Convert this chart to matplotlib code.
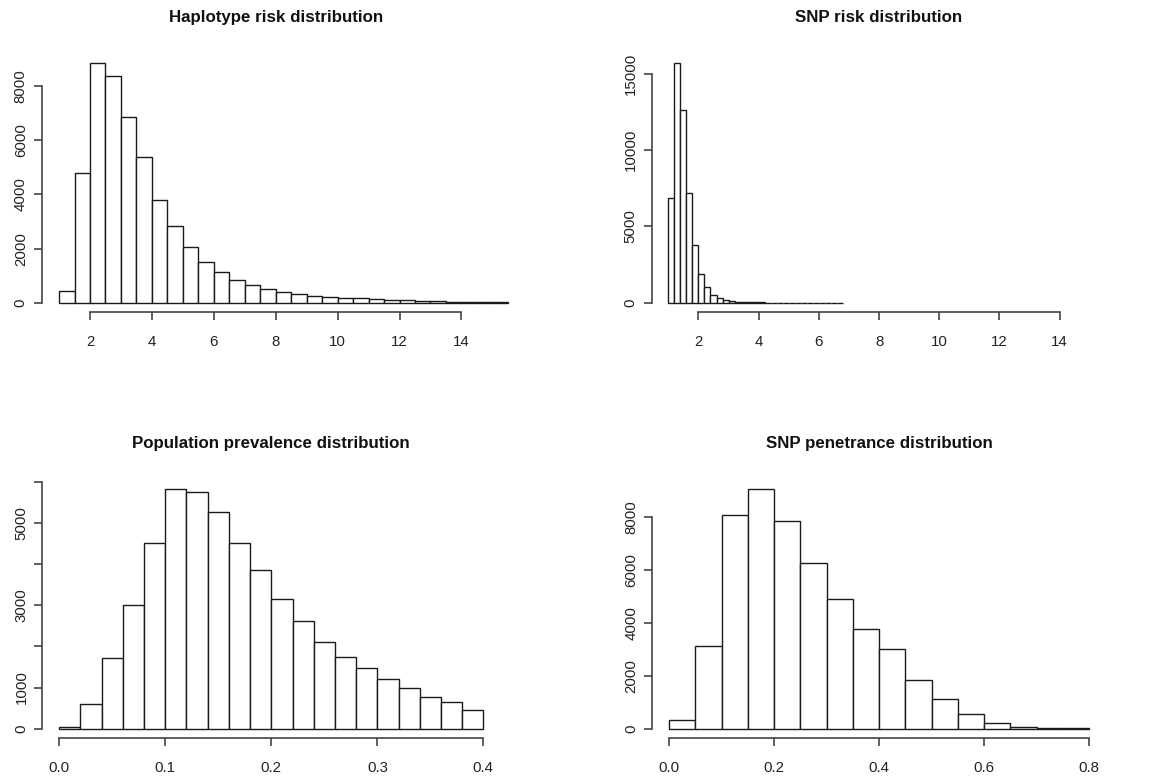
import numpy as np
import matplotlib
matplotlib.use("Agg")
import matplotlib.pyplot as plt

plt.rcParams['font.family'] = ['Liberation Sans', 'DejaVu Sans']

# ---------------- data ----------------
hap_title = "Haplotype risk distribution"
hap_bin_start, hap_bin_width = 1.0, 0.5
hap_counts = [430, 4780, 8850, 8370, 6850, 5400, 3810, 2850, 2060, 1490,
              1150, 830, 655, 500, 390, 320, 265, 215, 165, 160,
              145, 110, 100, 70, 50, 35, 30, 25, 20]
hap_xticks = [2, 4, 6, 8, 10, 12, 14]
hap_yticks = [0, 2000, 4000, 6000, 8000]

snp_title = "SNP risk distribution"
snp_bin_start, snp_bin_width = 1.0, 0.2
snp_counts = [6850, 15700, 12640, 7170, 3760, 1880, 1005, 500, 285, 175,
              110, 65, 45, 30, 20, 15, 12, 10, 8, 6,
              5, 4, 4, 3, 3, 2, 2, 2, 1]
snp_xticks = [2, 4, 6, 8, 10, 12, 14]
snp_yticks = [0, 5000, 10000, 15000]

prev_title = "Population prevalence distribution"
prev_bin_start, prev_bin_width = 0.0, 0.02
prev_counts = [40, 607, 1720, 3010, 4520, 5810, 5745, 5260, 4515, 3860,
               3150, 2605, 2095, 1750, 1470, 1195, 985, 780, 640, 460]
prev_xticks = [0.0, 0.1, 0.2, 0.3, 0.4]
prev_xticklabels = ["0.0", "0.1", "0.2", "0.3", "0.4"]
prev_yticks = [0, 1000, 2000, 3000, 4000, 5000, 6000]
prev_yticklabels = ["0", "1000", "", "3000", "", "5000", ""]

pen_title = "SNP penetrance distribution"
pen_bin_start, pen_bin_width = 0.0, 0.05
pen_counts = [314, 3130, 8050, 9045, 7825, 6265, 4905, 3750, 3005, 1850,
              1105, 540, 200, 75, 25, 10]
pen_xticks = [0.0, 0.2, 0.4, 0.6, 0.8]
pen_xticklabels = ["0.0", "0.2", "0.4", "0.6", "0.8"]
pen_yticks = [0, 2000, 4000, 6000, 8000]

# ---------------- layout (pixels) ----------------
W, H = 1155, 779
fig = plt.figure(figsize=(W / 100, H / 100), dpi=100)

def make_ax(left, right, top, bottom):
    return fig.add_axes([left / W, (H - bottom) / H, (right - left) / W, (bottom - top) / H])

AX_COL = '#444444'
BAR_COL = '#1a1a1a'

def draw(ax, start, width, counts, xlim, xticks, xticklabels, yticks, yticklabels, title):
    counts = np.asarray(counts, dtype=float)
    lefts = start + width * np.arange(len(counts))
    ax.bar(lefts, counts, width=width, align='edge', facecolor='white',
           edgecolor=BAR_COL, linewidth=1.0)
    ymax = counts.max()
    ax.set_ylim(-0.04 * ymax, 1.04 * ymax)
    ax.set_xlim(*xlim)
    for s in ('top', 'right'):
        ax.spines[s].set_visible(False)
    ax.spines['left'].set_bounds(yticks[0], yticks[-1])
    ax.spines['bottom'].set_bounds(xticks[0], xticks[-1])
    for s in ('left', 'bottom'):
        ax.spines[s].set_color(AX_COL)
        ax.spines[s].set_linewidth(1.2)
    ax.set_xticks(xticks)
    ax.set_xticklabels(xticklabels if xticklabels is not None else [str(t) for t in xticks])
    ax.set_yticks(yticks)
    ax.set_yticklabels(yticklabels if yticklabels is not None else [str(t) for t in yticks],
                       rotation=90, va='center')
    ax.tick_params(axis='both', length=6, width=1.2, color=AX_COL, labelsize=10.8,
                   labelcolor='#222222')
    ax.tick_params(axis='x', pad=10.5)
    ax.tick_params(axis='y', pad=4)
    ax.patch.set_visible(False)
    bb = ax.get_position()
    hpx = bb.height * H
    ax.text(0.5, 1 + 36 / hpx, title, transform=ax.transAxes, ha='center', va='center',
            fontsize=12.2, fontweight='bold', color='#111111')

ax1 = make_ax(41.7, 509.7, 53.7, 312.3)
draw(ax1, hap_bin_start, hap_bin_width, hap_counts, (0.44, 15.56),
     hap_xticks, None, hap_yticks, None, hap_title)

ax2 = make_ax(651.5, 1106.5, 53.7, 312.3)
draw(ax2, snp_bin_start, snp_bin_width, snp_counts, (0.44, 15.56),
     snp_xticks, None, snp_yticks, None, snp_title)

ax3 = make_ax(42.3, 500.3, 479.8, 738.3)
draw(ax3, prev_bin_start, prev_bin_width, prev_counts, (-0.016, 0.416),
     prev_xticks, prev_xticklabels, prev_yticks, prev_yticklabels, prev_title)

ax4 = make_ax(652.2, 1106.1, 479.4, 738.3)
draw(ax4, pen_bin_start, pen_bin_width, pen_counts, (-0.032, 0.832),
     pen_xticks, pen_xticklabels, pen_yticks, None, pen_title)

fig.savefig("out.png", dpi=100, facecolor='white')
